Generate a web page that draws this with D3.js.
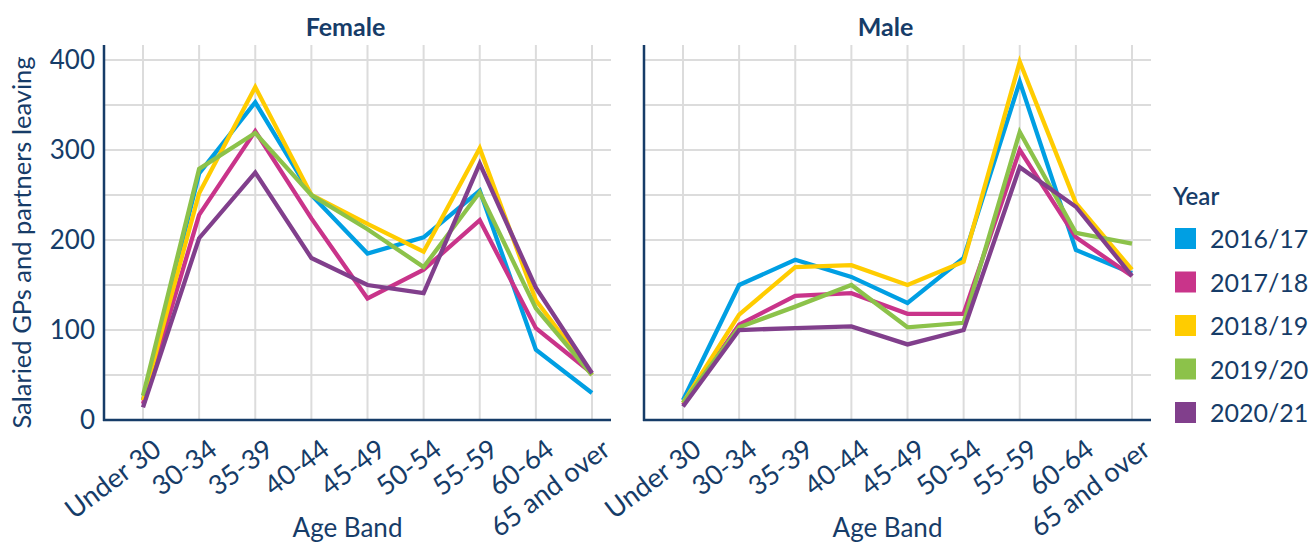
<!DOCTYPE html>
<html>
<head>
<meta charset="utf-8">
<script src="https://cdn.jsdelivr.net/npm/d3@7"></script>
<style>
  body { margin: 0; background: #fff; }
  svg { font-family: Lato, 'Open Sans', sans-serif; }
</style>
</head>
<body>
<svg id="chart" width="1314" height="543"></svg>
<script>
// Data
const ageBands = ['Under 30', '30-34', '35-39', '40-44', '45-49', '50-54', '55-59', '60-64', '65 and over'];
const years = ['2016/17', '2017/18', '2018/19', '2019/20', '2020/21'];
const yearColors = ['#009fe3', '#c9348a', '#ffcc00', '#8cc24a', '#813f8c'];
const yTicks = [0, 100, 200, 300, 400];

const female2016 = [22, 274, 353, 250, 185, 203, 255, 78, 30];
const female2017 = [18, 228, 321, 224, 135, 167, 222, 102, 52];
const female2018 = [22, 252, 370, 250, 218, 187, 302, 133, 50];
const female2019 = [27, 279, 319, 250, 212, 170, 253, 124, 50];
const female2020 = [14, 202, 275, 180, 150, 141, 285, 147, 52];

const male2016 = [22, 150, 178, 159, 130, 180, 376, 189, 163];
const male2017 = [17, 106, 138, 141, 118, 118, 300, 203, 160];
const male2018 = [19, 117, 170, 172, 150, 176, 398, 241, 167];
const male2019 = [19, 103, 126, 150, 103, 108, 320, 208, 196];
const male2020 = [15, 100, 102, 104, 84, 100, 281, 237, 160];

const panels = [
  { title: 'Female', left: 104, series: [female2016, female2017, female2018, female2019, female2020], showY: true },
  { title: 'Male', left: 644, series: [male2016, male2017, male2018, male2019, male2020], showY: false }
];

// Layout
const panelWidth = 507;
const plotTop = 45;
const plotBottom = 420;
const navy = '#163c68';
const gridColor = '#dcdcdc';

const svg = d3.select('#chart');

const yScale = d3.scaleLinear()
  .domain([0, 416.7])
  .range([plotBottom, plotTop]);

panels.forEach(panel => {
  const g = svg.append('g');
  const right = panel.left + panelWidth;

  const xScale = d3.scalePoint()
    .domain(ageBands)
    .range([panel.left + 39, panel.left + 488]);

  // Horizontal grid every 50
  g.append('g')
    .selectAll('line')
    .data(d3.range(50, 401, 50))
    .enter()
    .append('line')
    .attr('x1', panel.left)
    .attr('x2', right)
    .attr('y1', d => yScale(d))
    .attr('y2', d => yScale(d))
    .attr('stroke', gridColor)
    .attr('stroke-width', 2);

  // Vertical grid at each age band
  g.append('g')
    .selectAll('line')
    .data(ageBands)
    .enter()
    .append('line')
    .attr('x1', d => xScale(d))
    .attr('x2', d => xScale(d))
    .attr('y1', plotTop)
    .attr('y2', plotBottom)
    .attr('stroke', gridColor)
    .attr('stroke-width', 2);

  // Lines
  const line = d3.line()
    .x((d, i) => xScale(ageBands[i]))
    .y(d => yScale(d));

  panel.series.forEach((values, i) => {
    g.append('path')
      .datum(values)
      .attr('fill', 'none')
      .attr('stroke', yearColors[i])
      .attr('stroke-width', 4.3)
      .attr('stroke-linejoin', 'miter')
      .attr('d', line);
  });

  // Axis lines
  g.append('line')
    .attr('x1', panel.left).attr('x2', panel.left)
    .attr('y1', plotTop).attr('y2', plotBottom + 1)
    .attr('stroke', navy).attr('stroke-width', 2.5);
  g.append('line')
    .attr('x1', panel.left - 1).attr('x2', right)
    .attr('y1', plotBottom).attr('y2', plotBottom)
    .attr('stroke', navy).attr('stroke-width', 2.5);

  // Y tick labels
  if (panel.showY) {
    g.append('g')
      .selectAll('text')
      .data(yTicks)
      .enter()
      .append('text')
      .attr('x', panel.left - 9)
      .attr('y', d => yScale(d))
      .attr('dy', '0.36em')
      .attr('text-anchor', 'end')
      .style('font-size', '26px')
      .style('fill', navy)
      .text(d => d);
  }

  // X tick labels, rotated
  g.append('g')
    .selectAll('text')
    .data(ageBands)
    .enter()
    .append('text')
    .attr('transform', d => `translate(${xScale(d) + 20}, 453) rotate(-37)`)
    .attr('text-anchor', 'end')
    .style('font-size', '27px')
    .style('fill', navy)
    .text(d => d);

  // Panel title
  g.append('text')
    .attr('x', panel.left + panelWidth / 2 - 12)
    .attr('y', 36)
    .attr('text-anchor', 'middle')
    .style('font-size', '25px')
    .style('font-weight', 'bold')
    .style('fill', navy)
    .text(panel.title);

  // X axis title
  g.append('text')
    .attr('x', panel.left + panelWidth / 2 - 10)
    .attr('y', 537)
    .attr('text-anchor', 'middle')
    .style('font-size', '26px')
    .style('fill', navy)
    .text('Age Band');
});

// Y axis title
svg.append('text')
  .attr('transform', `translate(31, ${(plotTop + plotBottom) / 2 + 10}) rotate(-90)`)
  .attr('text-anchor', 'middle')
  .style('font-size', '25.5px')
  .style('fill', navy)
  .text('Salaried GPs and partners leaving');

// Legend
const legend = svg.append('g').attr('transform', 'translate(1173, 0)');

legend.append('text')
  .attr('x', 0)
  .attr('y', 205)
  .style('font-size', '24px')
  .style('font-weight', '600')
  .style('fill', navy)
  .text('Year');

const items = legend.selectAll('.item')
  .data(years)
  .enter()
  .append('g')
  .attr('class', 'item')
  .attr('transform', (d, i) => `translate(2, ${228 + i * 43.5})`);

items.append('rect')
  .attr('width', 21)
  .attr('height', 21)
  .attr('fill', (d, i) => yearColors[i]);

items.append('text')
  .attr('x', 35)
  .attr('y', 11)
  .attr('dy', '0.36em')
  .style('font-size', '25px')
  .style('fill', navy)
  .text(d => d);
</script>
</body>
</html>
